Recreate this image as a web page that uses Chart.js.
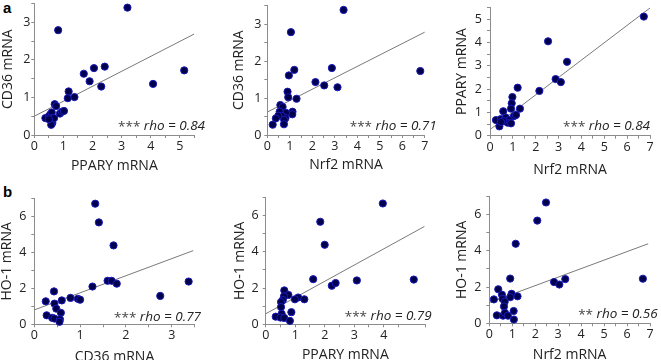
<!DOCTYPE html>
<html>
<head>
<meta charset="utf-8">
<script src="https://cdn.jsdelivr.net/npm/chart.js@4.4.1/dist/chart.umd.min.js"></script>
<style>
  html, body { margin: 0; padding: 0; background: #fff; overflow: hidden; }
  body { width: 661px; height: 360px; position: relative; }
  canvas { position: absolute; }
  .tag { position: absolute; font: bold 15px "Liberation Sans", Arial, sans-serif; color: #000; }
</style>
</head>
<body>
<div class="tag" style="left:3px;top:-1px;">a</div>
<div class="tag" style="left:3px;top:183px;">b</div>
<canvas id="p1"></canvas>
<canvas id="p2"></canvas>
<canvas id="p3"></canvas>
<canvas id="p4"></canvas>
<canvas id="p5"></canvas>
<canvas id="p6"></canvas>
<script>
// panel a1: PPARY vs CD36
const a1Ppary = [0.38, 0.5, 0.55, 0.6, 0.6, 0.62, 0.58, 0.68, 0.7, 0.75, 0.88, 0.95, 1.02, 1.15, 1.18, 1.38, 0.82, 1.7, 1.9, 2.05, 2.42, 2.3, 3.2, 4.08, 5.15, 0.5];
const a1Cd36 = [0.45, 0.5, 0.55, 0.6, 0.45, 0.32, 0.27, 0.45, 0.82, 0.77, 0.57, 0.62, 0.64, 0.98, 1.16, 1.01, 2.79, 1.63, 1.43, 1.78, 1.82, 1.29, 3.39, 1.36, 1.72, 0.42];
const a1Fit = [[0, 0.5], [5.5, 2.69]];

// panel a2: Nrf2 vs CD36
const a2Nrf2 = [3.39, 1.05, 1.2, 0.96, 2.14, 2.53, 2.87, 3.12, 6.8, 0.9, 0.93, 1.3, 0.58, 0.68, 1.12, 1.11, 0.83, 0.81, 0.55, 0.64, 0.49, 0.38, 0.75, 0.74, 0.24];
const a2Cd36 = [3.38, 2.78, 1.76, 1.61, 1.43, 1.34, 1.81, 1.29, 1.73, 1.17, 1.02, 0.98, 0.81, 0.76, 0.63, 0.56, 0.6, 0.46, 0.63, 0.52, 0.52, 0.45, 0.41, 0.29, 0.28];
const a2Fit = [[0, 0.62], [7, 2.78]];

// panel a3: Nrf2 vs PPARY
const a3Nrf2 = [6.73, 2.54, 3.37, 2.87, 3.1, 2.16, 1.21, 0.98, 0.95, 0.92, 1.31, 1.05, 1.14, 0.58, 0.26, 0.47, 0.69, 0.83, 0.77, 0.92, 0.58, 0.41, 0.48];
const a3Ppary = [5.11, 4.05, 3.17, 2.43, 2.3, 1.92, 2.06, 1.66, 1.39, 1.16, 1.16, 0.84, 0.89, 1.05, 0.67, 0.71, 0.78, 0.67, 0.56, 0.53, 0.63, 0.4, 0.59];
const a3Fit = [[0.05, 0.3], [7, 5.48]];

// panel b1: CD36 vs HO-1
const b1Cd36 = [1.33, 1.41, 1.73, 1.27, 1.6, 1.69, 1.8, 2.75, 3.37, 0.79, 0.95, 1.0, 0.6, 0.43, 0.25, 0.44, 0.48, 0.27, 0.58, 0.39, 0.44, 0.56, 0.55];
const b1Ho1 = [6.71, 5.67, 4.39, 2.1, 2.42, 2.42, 2.26, 1.58, 2.38, 1.47, 1.42, 1.37, 1.33, 1.83, 1.28, 1.15, 0.87, 0.5, 0.64, 0.36, 0.32, 0.28, 0.14];
const b1Fit = [[0, 0.8], [3.47, 4.1]];

// panel b2: PPARY vs HO-1
const b2Ppary = [3.97, 1.85, 2.0, 1.61, 2.24, 2.37, 3.09, 5.02, 0.63, 0.77, 0.62, 0.58, 0.52, 0.52, 1.1, 0.99, 1.31, 0.87, 0.54, 0.34, 0.5, 0.63, 0.82];
const b2Ho1 = [6.67, 5.66, 4.39, 2.49, 2.13, 2.28, 2.42, 2.47, 1.87, 1.62, 1.55, 1.34, 1.23, 0.95, 1.48, 1.38, 1.38, 0.67, 0.58, 0.42, 0.37, 0.35, 0.19];
const b2Fit = [[0, 0.58], [5.38, 5.4]];

// panel b3: Nrf2 vs HO-1
const b3Nrf2 = [2.47, 2.09, 1.15, 0.91, 2.82, 3.05, 3.31, 6.69, 0.39, 0.55, 0.97, 1.23, 0.91, 0.58, 0.2, 0.67, 0.64, 1.06, 0.33, 0.6, 0.68, 0.81, 1.07];
const b3Ho1 = [6.67, 5.67, 4.39, 2.47, 2.28, 2.14, 2.44, 2.46, 1.88, 1.58, 1.63, 1.49, 1.44, 1.35, 1.32, 1.19, 0.93, 0.68, 0.44, 0.42, 0.58, 0.42, 0.21];
const b3Fit = [[0, 1.14], [6.92, 4.39]];

const FONT = "'Open Sans', 'Noto Sans', sans-serif";
const FS = 12.5;   // tick labels
const TFS = 14;    // axis titles

const panels = [
  { id: "p1", xs: a1Ppary, ys: a1Cd36, fit: a1Fit, xMax: 5.5, yMax: 3.5, yStep: 0.5, yEvery: 1,
    xTitle: "PPARY mRNA", yTitle: "CD36 mRNA", stars: "***", rho: "rho = 0.84",
    area: [34.3, 1.7, 194.4, 135], yTitleX: 8.5, xTitleY: 165.5, statRight: 205, statY: 126, yPad: 1 },
  { id: "p2", xs: a2Nrf2, ys: a2Cd36, fit: a2Fit, xMax: 7, yMax: 3.5, yStep: 0.5, yEvery: 1,
    xTitle: "Nrf2 mRNA", yTitle: "CD36 mRNA", stars: "***", rho: "rho = 0.71",
    area: [267.3, 1.7, 424.8, 135], yTitleX: 239, xTitleY: 165, statRight: 436.7, statY: 126, yPad: 3 },
  { id: "p3", xs: a3Nrf2, ys: a3Ppary, fit: a3Fit, xMax: 7, yMax: 5.5, yStep: 0.5, yEvery: 1,
    xTitle: "Nrf2 mRNA", yTitle: "PPARY mRNA", stars: "***", rho: "rho = 0.84",
    area: [490, 1, 650, 135.7], yTitleX: 462.5, xTitleY: 170, statRight: 650, statY: 126, yPad: 5 },
  { id: "p4", xs: b1Cd36, ys: b1Ho1, fit: b1Fit, xMax: 3.5, yMax: 7, yStep: 1, yEvery: 2,
    xTitle: "CD36 mRNA", yTitle: "HO-1 mRNA", stars: "***", rho: "rho = 0.77",
    area: [34.3, 192.7, 194.6, 324.3], yTitleX: 7.5, xTitleY: 356.7, statRight: 201, statY: 316.7, yPad: 5 },
  { id: "p5", xs: b2Ppary, ys: b2Ho1, fit: b2Fit, xMax: 5.4, yMax: 7, yStep: 1, yEvery: 2,
    xTitle: "PPARY mRNA", yTitle: "HO-1 mRNA", stars: "***", rho: "rho = 0.79",
    area: [265.7, 192.7, 425, 324.3], yTitleX: 240.8, xTitleY: 355, statRight: 431.7, statY: 315.7, yPad: 4 },
  { id: "p6", xs: b3Nrf2, ys: b3Ho1, fit: b3Fit, xMax: 7, yMax: 7, yStep: 1, yEvery: 2,
    xTitle: "Nrf2 mRNA", yTitle: "HO-1 mRNA", stars: "**", rho: "rho = 0.56",
    area: [489.3, 190.3, 650, 323.3], yTitleX: 462.5, xTitleY: 355, statRight: 657.7, statY: 314.3, yPad: 5 }
];

function drawPanel(p) {
  const half = TFS * 1.2 / 2;
  const cl = Math.round(p.yTitleX - half);
  const ct = Math.floor(p.area[1]) - 6;
  const cr = Math.ceil(p.area[2]) + 16;
  const cb = Math.round(p.xTitleY + half);
  const canvas = document.getElementById(p.id);
  canvas.style.left = cl + "px";
  canvas.style.top = ct + "px";
  canvas.style.width = (cr - cl) + "px";
  canvas.style.height = (cb - ct) + "px";
  canvas.width = cr - cl;
  canvas.height = cb - ct;

  const pts = p.xs.map((x, i) => ({ x: x, y: p.ys[i] }));
  const line = p.fit.map(d => ({ x: d[0], y: d[1] }));

  const statPlugin = {
    id: "stat" + p.id,
    afterDraw(chart) {
      const ctx = chart.ctx;
      ctx.save();
      ctx.fillStyle = "#222";
      ctx.textBaseline = "middle";
      ctx.textAlign = "right";
      const rx = p.statRight - cl;
      const ry = p.statY - ct;
      ctx.font = "italic 13.5px " + FONT;
      ctx.fillText(p.rho, rx, ry);
      const w = ctx.measureText(p.rho).width;
      ctx.font = "13.5px " + FONT;
      ctx.fillStyle = "#444";
      ctx.fillText(p.stars + " ", rx - w, ry + 1);
      ctx.restore();
    }
  };

  new Chart(canvas, {
    type: "scatter",
    data: {
      datasets: [
        {
          data: pts,
          backgroundColor: "#00004d",
          borderColor: "#1a1ab8",
          borderWidth: 1,
          pointRadius: 3.6,
          clip: false,
          order: 1
        },
        {
          type: "line",
          data: line,
          showLine: true,
          borderColor: "#7a7a7a",
          borderWidth: 1,
          pointRadius: 0,
          fill: false,
          order: 2
        }
      ]
    },
    options: {
      responsive: false,
      animation: false,
      events: [],
      layout: { padding: { left: 0, top: p.area[1] - ct, right: cr - p.area[2], bottom: 0 } },
      plugins: { legend: { display: false }, tooltip: { enabled: false } },
      scales: {
        x: {
          type: "linear",
          min: 0,
          max: p.xMax,
          afterFit: s => { s.height = cb - p.area[3]; },
          border: { color: "#8c8c8c", width: 1 },
          grid: { drawOnChartArea: false, drawTicks: true, tickLength: 3, color: "#8c8c8c" },
          ticks: {
            stepSize: 0.5,
            autoSkip: false,
            maxRotation: 0,
            padding: 1,
            color: "#222",
            font: { family: FONT, size: FS },
            callback: v => (Number.isInteger(v) ? v : "")
          },
          title: { display: true, text: p.xTitle, color: "#222", padding: 0, font: { family: FONT, size: TFS } }
        },
        y: {
          type: "linear",
          min: 0,
          max: p.yMax,
          afterFit: s => { s.width = p.area[0] - cl; },
          border: { color: "#8c8c8c", width: 1 },
          grid: { drawOnChartArea: false, drawTicks: true, tickLength: 3, color: "#8c8c8c" },
          ticks: {
            stepSize: p.yStep,
            autoSkip: false,
            padding: p.yPad,
            color: "#222",
            font: { family: FONT, size: FS },
            callback: v => (Number.isInteger(v) && v % p.yEvery === 0 ? v : "")
          },
          title: { display: true, text: p.yTitle, color: "#222", padding: 0, font: { family: FONT, size: TFS } }
        }
      }
    },
    plugins: [statPlugin]
  });
}

panels.forEach(drawPanel);
</script>
</body>
</html>
